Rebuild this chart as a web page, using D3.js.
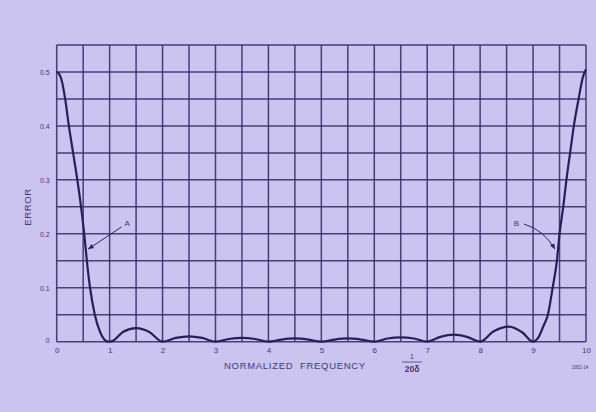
<!DOCTYPE html>
<html>
<head>
<meta charset="utf-8">
<script src="https://cdn.jsdelivr.net/npm/d3@7"></script>
<style>
  html, body { margin: 0; padding: 0; background: #cbc3f0; }
  svg { display: block; }
  text { font-family: "Liberation Sans", "DejaVu Sans", sans-serif; fill: #3f3a78; }
</style>
</head>
<body>
<svg id="chart" width="596" height="412"></svg>
<script>
// ---- data ----
const xTicks = [0, 1, 2, 3, 4, 5, 6, 7, 8, 9, 10];
const yTicks = [0, 0.1, 0.2, 0.3, 0.4, 0.5];
const yTickLabels = ["0", "0.1", "0.2", "0.3", "0.4", "0.5"];
const freq = [0, 0.05, 0.1, 0.16, 0.23, 0.31, 0.39, 0.46, 0.52, 0.57, 0.63, 0.72, 0.82, 0.9, 0.97, 1.05,
  1.25, 1.5, 1.75, 2.0, 2.25, 2.5, 2.75, 3.0, 3.25, 3.5, 3.75, 4.0, 4.25, 4.5, 4.75, 5.0,
  5.25, 5.5, 5.75, 6.0, 6.25, 6.5, 6.75, 7.0, 7.25, 7.5, 7.75, 8.0, 8.25, 8.55, 8.8, 9.0,
  9.1, 9.2, 9.28, 9.37, 9.45, 9.5, 9.57, 9.63, 9.7, 9.77, 9.86, 9.94, 10];
const error = [0.5, 0.496, 0.482, 0.45, 0.4, 0.35, 0.3, 0.25, 0.2, 0.15, 0.1, 0.05, 0.018, 0.004, 0, 0.001,
  0.018, 0.025, 0.018, 0, 0.007, 0.01, 0.007, 0, 0.005, 0.007, 0.005, 0, 0.004, 0.006, 0.004, 0,
  0.004, 0.006, 0.004, 0, 0.006, 0.008, 0.006, 0, 0.009, 0.013, 0.009, 0, 0.019, 0.028, 0.017, 0,
  0.008, 0.03, 0.05, 0.1, 0.15, 0.2, 0.25, 0.3, 0.35, 0.4, 0.45, 0.49, 0.505];
const annotations = [
  { label: "A", fx: 0.58, fy: 0.17, side: "left" },
  { label: "B", fx: 9.43, fy: 0.17, side: "right" }
];

// ---- layout ----
const svg = d3.select("#chart");
const x = d3.scaleLinear().domain([0, 10]).range([56.7, 586]);
const y = d3.scaleLinear().domain([0, 0.55]).range([341.7, 45]);
const gridCol = "#37326c";

const defs = svg.append("defs");
defs.append("marker").attr("id", "arr").attr("viewBox", "0 0 10 10")
  .attr("refX", 9).attr("refY", 5).attr("markerWidth", 6).attr("markerHeight", 6)
  .attr("orient", "auto")
  .append("path").attr("d", "M0,1 L10,5 L0,9 Z").attr("fill", "#2c2462");

// grid
const xGrid = d3.range(0, 10.001, 0.5);
const yGrid = d3.range(0, 0.5501, 0.05);
const g = svg.append("g");
g.selectAll("line.v").data(xGrid).enter().append("line")
  .attr("x1", d => x(d)).attr("x2", d => x(d)).attr("y1", y(0)).attr("y2", y(0.55))
  .attr("stroke", gridCol).attr("stroke-width", 1.5).attr("opacity", 0.9);
g.selectAll("line.h").data(yGrid).enter().append("line")
  .attr("x1", x(0)).attr("x2", x(10)).attr("y1", d => y(d)).attr("y2", d => y(d))
  .attr("stroke", gridCol).attr("stroke-width", 1.5).attr("opacity", 0.9);

// axes (labels only)
const xAxis = d3.axisBottom(x).tickValues(xTicks).tickSize(0).tickPadding(5).tickFormat(d3.format("d"));
const xa = svg.append("g").attr("transform", `translate(0,${y(0) + 1})`).call(xAxis);
xa.select(".domain").remove();
xa.selectAll("text").attr("font-size", 8).attr("fill", "#3f3a78")
  .attr("font-family", "Liberation Sans, sans-serif");

const yAxis = d3.axisLeft(y).tickValues(yTicks).tickSize(0).tickPadding(7)
  .tickFormat((d, i) => yTickLabels[i]);
const ya = svg.append("g").attr("transform", `translate(${x(0)},0)`).call(yAxis);
ya.select(".domain").remove();
ya.selectAll("text").attr("font-size", 7).attr("fill", "#3f3a78")
  .attr("font-family", "Liberation Sans, sans-serif");
ya.selectAll(".tick").filter(d => d === 0).select("text").attr("dy", "0.1em");

// curve
const pts = freq.map((f, i) => [f, error[i]]);
svg.append("path").datum(pts)
  .attr("d", d3.line().x(d => x(d[0])).y(d => y(d[1])).curve(d3.curveMonotoneX))
  .attr("fill", "none").attr("stroke", "#272058").attr("stroke-width", 2.2);

// annotations
annotations.forEach(a => {
  const tx = x(a.fx), ty = y(a.fy);
  if (a.side === "left") {
    svg.append("text").attr("x", tx + 37).attr("y", ty - 24).attr("font-size", 8).text(a.label);
    svg.append("path").attr("d", `M${tx + 34},${ty - 23} L${tx + 1},${ty - 1}`)
      .attr("stroke", "#2c2462").attr("stroke-width", 1).attr("fill", "none")
      .attr("marker-end", "url(#arr)");
  } else {
    svg.append("text").attr("x", tx - 42).attr("y", ty - 24).attr("font-size", 8).text(a.label);
    svg.append("path").attr("d", `M${tx - 32},${ty - 26} Q${tx - 12},${ty - 20} ${tx - 1},${ty - 1}`)
      .attr("stroke", "#2c2462").attr("stroke-width", 1).attr("fill", "none")
      .attr("marker-end", "url(#arr)");
  }
});

// axis titles
svg.append("text").attr("transform", "translate(31,207) rotate(-90)")
  .attr("text-anchor", "middle").attr("font-size", 9.5).attr("letter-spacing", 0.6).text("ERROR");
svg.append("text").attr("x", 224).attr("y", 369).attr("font-size", 9.5)
  .attr("letter-spacing", 0.7).attr("xml:space", "preserve").text("NORMALIZED  FREQUENCY");
svg.append("text").attr("x", 412).attr("y", 359).attr("text-anchor", "middle").attr("font-size", 7).text("1");
svg.append("line").attr("x1", 402).attr("x2", 422).attr("y1", 362).attr("y2", 362)
  .attr("stroke", "#3f3a78").attr("stroke-width", 0.8);
svg.append("text").attr("x", 412).attr("y", 372).attr("text-anchor", "middle").attr("font-size", 8.5)
  .attr("font-weight", "bold").text("20δ");
svg.append("text").attr("x", 580).attr("y", 369).attr("text-anchor", "middle").attr("font-size", 4.5).text("1951-14");
</script>
</body>
</html>
